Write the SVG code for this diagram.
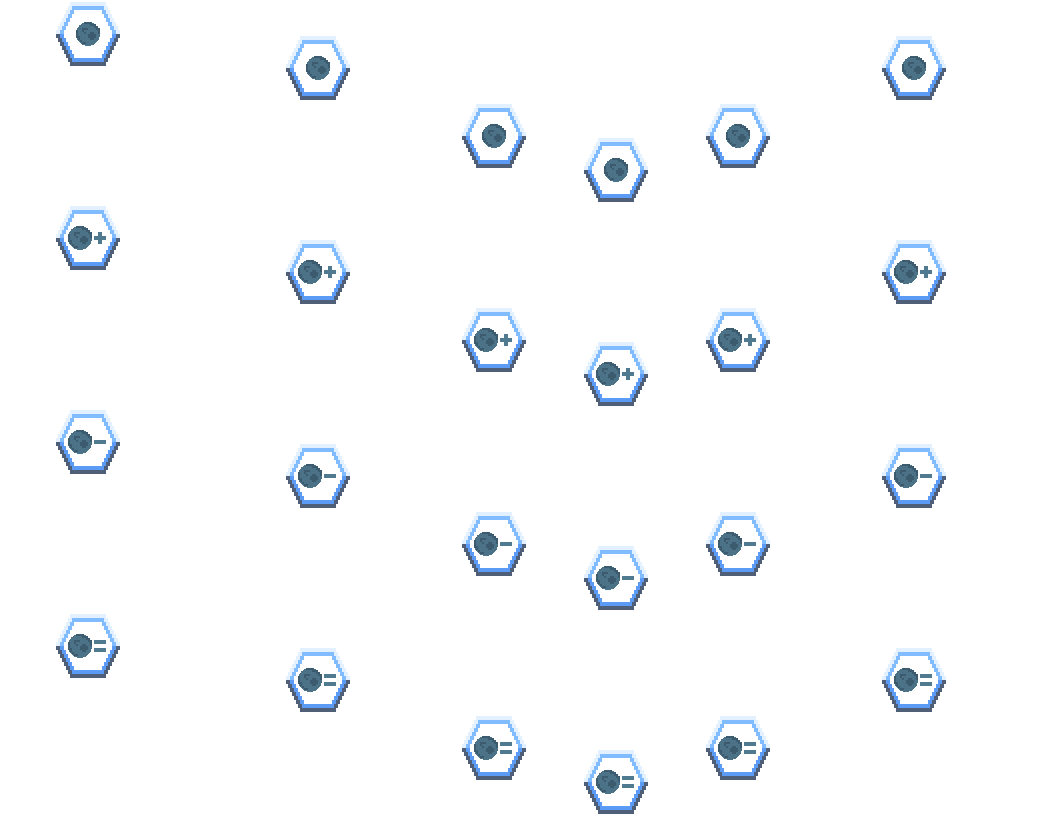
<svg xmlns="http://www.w3.org/2000/svg" width="1056" height="816" viewBox="0 0 1056 816">
<style>
.h *{shape-rendering:crispEdges}
.mk{fill:#507a90}
</style>
<defs>
<g id="hex">
<path d="M-18-32H18V-28H20V-24H22V-20H24V-16H26V-12H28V-8H30V-4H32V0H-32V-4H-30V-8H-28V-12H-26V-16H-24V-20H-22V-24H-20V-28H-18Z" fill="#e3f0ff"/>
<path d="M-32 0H32V4H30V8H28V12H26V16H24V20H22V24H20V28H18V32H-18V28H-20V24H-22V20H-24V16H-26V12H-28V8H-30V4H-32Z" fill="#505f78"/>
<path d="M-16-28H16V-24H18V-20H20V-16H22V-12H24V-8H26V-4H28V0H-28V-4H-26V-8H-24V-12H-22V-16H-20V-20H-18V-24H-16Z" fill="#80bcff"/>
<path d="M-28 0H28V4H26V8H24V12H22V16H20V20H18V24H16V28H-16V24H-18V20H-20V16H-22V12H-24V8H-26V4H-28Z" fill="#5c9bf5"/>
<path d="M-14-24H14V-20H16V-16H18V-12H20V-8H22V-4H24V4H22V8H20V12H18V16H16V20H14V24H-14V20H-16V16H-18V12H-20V8H-22V4H-24V-4H-22V-8H-20V-12H-18V-16H-16V-20H-14Z" fill="#fff"/>
</g>
<g id="globe">
<circle r="12" fill="#4c7288"/>
<path d="M-4,-12h8v2h4v2h2v2h2v6h-2v-4h-2v-2h-2v-2h-4v-2h-6zM-12,-4h2v6h2v4h2v2h4v2h-4v-2h-2v-2h-2v-2h-2zM-6,-6h6v2h-4v2h2v2h-2v-2h-2zM2,-2h4v2h2v4h-2v2h-4v-2h-2v-4h2z" fill="#3c5b6f"/>
</g>
<g id="n0"><use href="#hex"/><use href="#globe"/></g>
<g id="np"><use href="#hex"/><use href="#globe" x="-8"/><path class="mk" d="M10,-6h4v4h4v4h-4v4h-4v-4h-4v-4h4z"/></g>
<g id="nm"><use href="#hex"/><use href="#globe" x="-8"/><rect class="mk" x="6" y="-2" width="12" height="4"/></g>
<g id="ne"><use href="#hex"/><use href="#globe" x="-8"/><rect class="mk" x="6" y="-6" width="12" height="4"/><rect class="mk" x="6" y="2" width="12" height="4"/></g>
</defs>
<g id="connectors"/>
<g class="h">
<use id="n1" href="#n0" x="88" y="34"/>
<use id="n2" href="#np" x="88" y="238"/>
<use id="n3" href="#nm" x="88" y="442"/>
<use id="n4" href="#ne" x="88" y="646"/>
<use id="n5" href="#n0" x="318" y="68"/>
<use id="n6" href="#np" x="318" y="272"/>
<use id="n7" href="#nm" x="318" y="476"/>
<use id="n8" href="#ne" x="318" y="680"/>
<use id="n9" href="#n0" x="494" y="136"/>
<use id="n10" href="#np" x="494" y="340"/>
<use id="n11" href="#nm" x="494" y="544"/>
<use id="n12" href="#ne" x="494" y="748"/>
<use id="n13" href="#n0" x="616" y="170"/>
<use id="n14" href="#np" x="616" y="374"/>
<use id="n15" href="#nm" x="616" y="578"/>
<use id="n16" href="#ne" x="616" y="782"/>
<use id="n17" href="#n0" x="738" y="136"/>
<use id="n18" href="#np" x="738" y="340"/>
<use id="n19" href="#nm" x="738" y="544"/>
<use id="n20" href="#ne" x="738" y="748"/>
<use id="n21" href="#n0" x="914" y="68"/>
<use id="n22" href="#np" x="914" y="272"/>
<use id="n23" href="#nm" x="914" y="476"/>
<use id="n24" href="#ne" x="914" y="680"/>
</g>
</svg>
